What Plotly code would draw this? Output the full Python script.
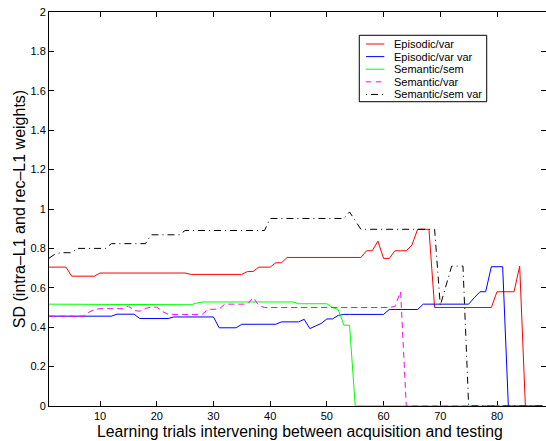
import plotly.graph_objects as go

# Trial index (learning trials between acquisition and testing)
trials = list(range(1, 89))

# Standard deviation of weights per condition
episodic_var = [
    0.705, 0.705, 0.705, 0.705, 0.659, 0.659, 0.659, 0.659, 0.659, 0.675,
    0.675, 0.675, 0.675, 0.675, 0.675, 0.675, 0.675, 0.675, 0.675, 0.675,
    0.675, 0.675, 0.675, 0.675, 0.675, 0.668, 0.668, 0.668, 0.668, 0.668,
    0.668, 0.668, 0.668, 0.668, 0.668, 0.683, 0.683, 0.705, 0.705, 0.705,
    0.727, 0.727, 0.754, 0.754, 0.754, 0.754, 0.754, 0.754, 0.754, 0.754,
    0.754, 0.754, 0.754, 0.754, 0.754, 0.754, 0.788, 0.788, 0.837, 0.749,
    0.749, 0.788, 0.788, 0.788, 0.817, 0.897, 0.897, 0.897, 0.500, 0.500,
    0.500, 0.500, 0.500, 0.500, 0.500, 0.500, 0.500, 0.500, 0.500, 0.580,
    0.580, 0.580, 0.580, 0.710, 0.0, 0.0, 0.0, 0.0,
]

episodic_var_var = [
    0.456, 0.456, 0.456, 0.456, 0.456, 0.456, 0.456, 0.456, 0.456, 0.456,
    0.456, 0.456, 0.466, 0.466, 0.466, 0.466, 0.444, 0.444, 0.444, 0.444,
    0.444, 0.444, 0.452, 0.452, 0.452, 0.452, 0.452, 0.452, 0.452, 0.452,
    0.397, 0.397, 0.397, 0.397, 0.415, 0.415, 0.415, 0.415, 0.415, 0.415,
    0.415, 0.427, 0.427, 0.427, 0.427, 0.440, 0.393, 0.406, 0.419, 0.442,
    0.442, 0.460, 0.465, 0.465, 0.465, 0.465, 0.465, 0.465, 0.465, 0.465,
    0.490, 0.490, 0.490, 0.490, 0.490, 0.490, 0.517, 0.517, 0.517, 0.517,
    0.517, 0.517, 0.517, 0.517, 0.517, 0.550, 0.580, 0.580, 0.707, 0.707,
    0.707, 0.0, 0.0, 0.0, 0.0, 0.0, 0.0, 0.0,
]

semantic_sem = [
    0.517, 0.517, 0.517, 0.517, 0.517, 0.517, 0.517, 0.517, 0.517, 0.517,
    0.517, 0.517, 0.517, 0.517, 0.517, 0.517, 0.517, 0.517, 0.517, 0.517,
    0.517, 0.517, 0.517, 0.514, 0.514, 0.514, 0.522, 0.528, 0.528, 0.528,
    0.528, 0.528, 0.528, 0.528, 0.528, 0.528, 0.528, 0.528, 0.528, 0.528,
    0.528, 0.528, 0.528, 0.528, 0.519, 0.519, 0.519, 0.519, 0.519, 0.519,
    0.500, 0.490, 0.410, 0.410, 0.0, 0.0, 0.0, 0.0, 0.0, 0.0,
    0.0, 0.0, 0.0, 0.0, 0.0, 0.0, 0.0, 0.0, 0.0, 0.0,
    0.0, 0.0, 0.0, 0.0, 0.0, 0.0, 0.0, 0.0, 0.0, 0.0,
    0.0, 0.0, 0.0, 0.0, 0.0, 0.0, 0.0, 0.0,
]

semantic_var = [
    0.456, 0.456, 0.456, 0.456, 0.456, 0.456, 0.456, 0.475, 0.490, 0.494,
    0.494, 0.494, 0.494, 0.494, 0.507, 0.485, 0.481, 0.495, 0.502, 0.502,
    0.480, 0.465, 0.465, 0.465, 0.465, 0.465, 0.465, 0.465, 0.490, 0.492,
    0.492, 0.517, 0.517, 0.517, 0.517, 0.517, 0.550, 0.510, 0.500, 0.500,
    0.500, 0.500, 0.500, 0.500, 0.500, 0.500, 0.500, 0.500, 0.500, 0.500,
    0.500, 0.500, 0.500, 0.500, 0.500, 0.500, 0.500, 0.500, 0.500, 0.500,
    0.500, 0.505, 0.580, 0.0, 0.0, 0.0, 0.0, 0.0, 0.0, 0.0,
    0.0, 0.0, 0.0, 0.0, 0.0, 0.0, 0.0, 0.0, 0.0, 0.0,
    0.0, 0.0, 0.0, 0.0, 0.0, 0.0, 0.0, 0.0,
]

semantic_sem_var = [
    0.750, 0.770, 0.778, 0.778, 0.778, 0.800, 0.800, 0.800, 0.800, 0.800,
    0.800, 0.824, 0.824, 0.824, 0.824, 0.824, 0.824, 0.824, 0.869, 0.869,
    0.869, 0.869, 0.869, 0.869, 0.891, 0.891, 0.891, 0.891, 0.891, 0.891,
    0.891, 0.891, 0.891, 0.891, 0.891, 0.891, 0.891, 0.891, 0.891, 0.952,
    0.952, 0.952, 0.952, 0.952, 0.952, 0.952, 0.952, 0.952, 0.952, 0.952,
    0.952, 0.952, 0.952, 0.985, 0.940, 0.897, 0.897, 0.897, 0.897, 0.897,
    0.897, 0.897, 0.897, 0.897, 0.897, 0.897, 0.897, 0.897, 0.897, 0.510,
    0.610, 0.710, 0.710, 0.710, 0.0, 0.0, 0.0, 0.0, 0.0, 0.0,
    0.0, 0.0, 0.0, 0.0, 0.0, 0.0, 0.0, 0.0,
]

series_names = ["Episodic/var", "Episodic/var var", "Semantic/sem",
                "Semantic/var", "Semantic/sem var"]

x_ticks = [10, 20, 30, 40, 50, 60, 70, 80]
y_ticks = [0, 0.2, 0.4, 0.6, 0.8, 1.0, 1.2, 1.4, 1.6, 1.8, 2.0]
y_tick_labels = ["0", "0.2", "0.4", "0.6", "0.8", "1", "1.2", "1.4", "1.6", "1.8", "2"]

x_title = "Learning trials intervening between acquisition and testing"
y_title = "SD (intra\u2013L1 and rec\u2013L1 weights)"

FONT = "Liberation Sans, Arial, Helvetica, sans-serif"

styles = [
    dict(color="#ff0000", dash="solid", key="solid"),
    dict(color="#0000ff", dash="solid", key="solid"),
    dict(color="#00ff00", dash="solid", key="solid"),
    dict(color="#ff00ff", dash="6px,4px", key="5px,5px"),
    dict(color="#000000", dash="7px,4px,1px,4px", key="1px,4px,7px,4px"),
]
values = [episodic_var, episodic_var_var, semantic_sem, semantic_var, semantic_sem_var]

fig = go.Figure()
for name, ys, st in zip(series_names, values, styles):
    fig.add_trace(go.Scatter(
        x=trials, y=ys, mode="lines", name=name, showlegend=False,
        line=dict(color=st["color"], dash=st["dash"], width=1),
    ))

# invisible trace carrying the right-hand tick axis
fig.add_trace(go.Scatter(x=[trials[0]], y=[0], yaxis="y2", mode="lines",
                         showlegend=False, hoverinfo="skip",
                         line=dict(color="rgba(0,0,0,0)")))

# boxed key in the upper right, in paper coordinates
key_left, key_right, key_top, key_bottom = 0.6243, 0.8807, 0.9409, 0.7723
sample_x0, sample_x1, label_x = 0.6378, 0.6747, 0.6895
row_top, row_step = 0.9188, 0.0320

shapes = [dict(type="rect", xref="paper", yref="paper",
               x0=key_left, x1=key_right, y0=key_bottom, y1=key_top,
               line=dict(color="black", width=1), fillcolor="white", layer="above")]
annotations = []
for i, (name, st) in enumerate(zip(series_names, styles)):
    yy = row_top - i * row_step
    shapes.append(dict(type="line", xref="paper", yref="paper",
                       x0=sample_x0, x1=sample_x1, y0=yy, y1=yy,
                       line=dict(color=st["color"], dash=st["key"], width=1)))
    annotations.append(dict(xref="paper", yref="paper", x=label_x, y=yy,
                            xanchor="left", yanchor="middle", showarrow=False,
                            text=name, font=dict(family=FONT, size=11, color="black")))

# x-axis title, centred under the axis
annotations.append(dict(xref="paper", yref="paper", x=0.506, y=-0.0635,
                        xanchor="center", yanchor="middle", showarrow=False,
                        text=x_title, font=dict(family=FONT, size=15.8, color="black")))

fig.update_layout(
    width=546, height=441,
    margin=dict(l=49, r=0, t=12, b=35),
    paper_bgcolor="white", plot_bgcolor="white",
    font=dict(family=FONT, size=11, color="black"),
    showlegend=False,
    shapes=shapes, annotations=annotations,
    xaxis=dict(
        range=[1, 88.64], tickvals=x_ticks,
        ticks="inside", ticklen=5, tickwidth=1, tickcolor="black",
        showline=True, linecolor="black", linewidth=1, mirror="ticks",
        showgrid=False, zeroline=False,
        tickfont=dict(family=FONT, size=11),
        layer="below traces",
    ),
    yaxis=dict(
        range=[0, 2], tickvals=y_ticks, ticktext=y_tick_labels,
        ticks="inside", ticklen=5, tickwidth=1, tickcolor="black",
        showline=True, linecolor="black", linewidth=1, mirror=False,
        showgrid=False, zeroline=False,
        tickfont=dict(family=FONT, size=11),
        title=dict(text=y_title, font=dict(family=FONT, size=16), standoff=0),
    ),
    yaxis2=dict(
        range=[0, 2], tickvals=y_ticks, overlaying="y", side="right",
        ticks="inside", ticklen=5, tickwidth=1, tickcolor="black",
        showline=False, showgrid=False, zeroline=False, showticklabels=False,
    ),
)

fig.write_html("out.html")
